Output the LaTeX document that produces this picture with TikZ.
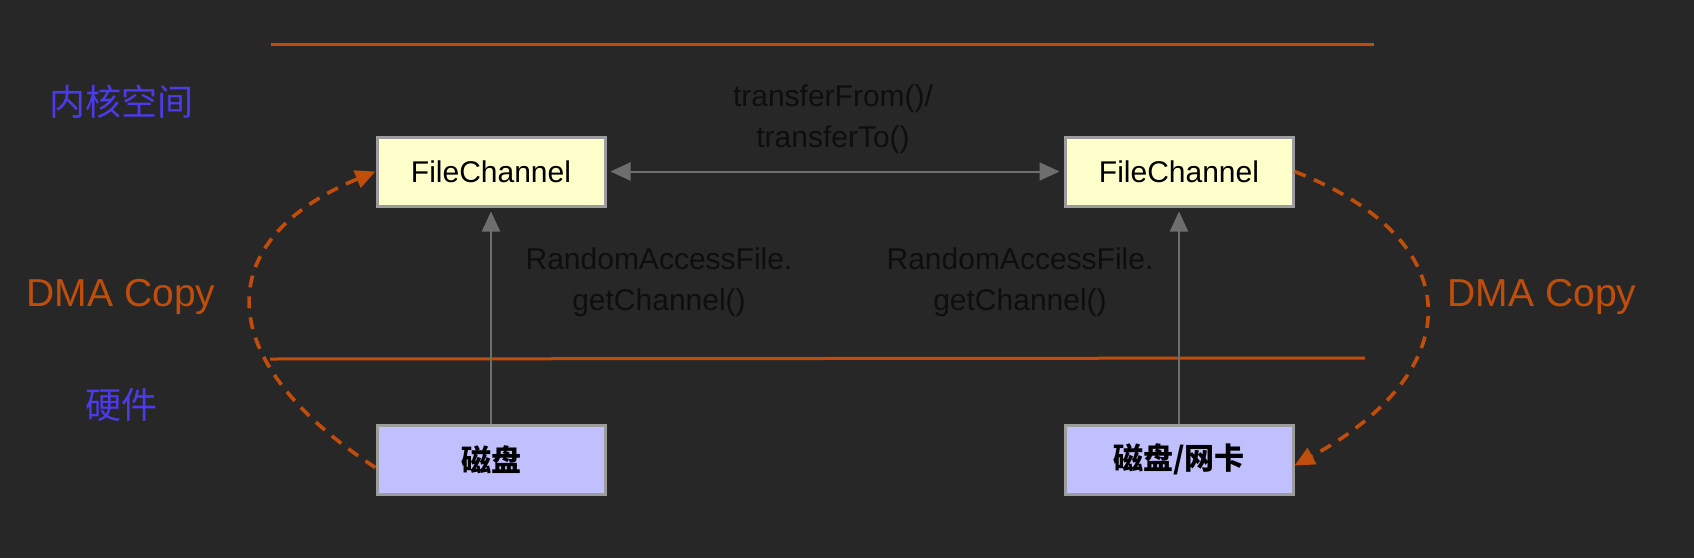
\documentclass[tikz,border=0pt]{standalone}
\usepackage{fontspec}
\setmainfont{Liberation Sans}
\newfontfamily\cjk{Noto Sans CJK SC}
\definecolor{bgdark}{HTML}{272727}
\definecolor{dmaorange}{HTML}{C04E0A}
\definecolor{linegrey}{HTML}{6E6E6E}
\definecolor{boxborder}{HTML}{9C9C9C}
\definecolor{fcyellow}{HTML}{FFFFCC}
\definecolor{hwlilac}{HTML}{C0C0FF}
\definecolor{zoneblue}{HTML}{4B3BEA}
\definecolor{darktext}{HTML}{0E0E0E}
\usetikzlibrary{positioning, arrows.meta}

\begin{document}
\begin{tikzpicture}[x=0.5pt, y=-0.5pt, font=\fontsize{15}{20.5}\selectfont,
        chanbox/.style={draw=boxborder, line width=1.5pt, minimum width=114pt, minimum height=34.5pt, inner sep=0pt, text=black},
        zonelabel/.style={text=zoneblue, font=\cjk\fontsize{18}{20}\selectfont},
        dmalabel/.style={text=dmaorange, font=\fontsize{19.5}{22}\selectfont},
        calltext/.style={text=darktext, align=center},
        callarrow/.style={draw=linegrey, line width=1pt, -{Triangle[length=10pt, width=9pt]}},
        dmaarrow/.style={draw=dmaorange, line width=1.8pt, dash pattern=on 6pt off 4.5pt, -{Triangle[length=10pt, width=9pt]}}]
        % Background
        \fill[bgdark] (0,0) rectangle (1694,558);

        % Zone lines
        \draw[dmaorange, line width=1.5pt] (271,44.5) coordinate (topL) -- (1374,44.5) coordinate (topR);
        \draw[dmaorange, line width=1.5pt] (270,359) coordinate (midL) -- (1365,358) coordinate (midR);

        % Zone labels
        \node[zonelabel] (kernel) at (121,102) {内核空间};
        \node[zonelabel] (hardware) at (121,405) {硬件};

        % Left column
        \node[chanbox, fill=fcyellow] (fc1) at (491,171.5) {FileChannel};
        \node[chanbox, fill=hwlilac, below=108pt of fc1, font=\cjk\bfseries\fontsize{15}{18}\selectfont] (dk1) {磁盘};

        % Right column
        \node[chanbox, fill=fcyellow, right=228.5pt of fc1] (fc2) {FileChannel};
        \node[chanbox, fill=hwlilac, below=108pt of fc2, font=\cjk\bfseries\fontsize{15}{18}\selectfont] (dk2) {磁盘/网卡};

        % Calls
        \draw[callarrow, {Triangle[length=10pt, width=9pt]}-{Triangle[length=10pt, width=9pt]}, shorten <=2pt, shorten >=2pt] (fc1.east) -- (fc2.west);
        \node[calltext] (xfer) at (833,119) {transferFrom()/\\transferTo()};
        \draw[callarrow, shorten >=2pt] (dk1.north) -- (fc1.south);
        \draw[callarrow, shorten >=2pt] (dk2.north) -- (fc2.south);
        \node[calltext] (open1) at (659,282) {RandomAccessFile.\\getChannel()};
        \node[calltext] (open2) at (1020,282) {RandomAccessFile.\\getChannel()};

        % DMA copies
        \draw[dmaarrow] (dk1.184) .. controls (210,360) and (210,240) .. (fc1.west);
        \draw[dmaarrow] (fc2.east) .. controls (1470,240) and (1470,370) .. (dk2.357);
        \node[dmalabel] (dmaL) at (121,297) {DMA Copy};
        \node[dmalabel] (dmaR) at (1542,297) {DMA Copy};
\end{tikzpicture}
\end{document}
